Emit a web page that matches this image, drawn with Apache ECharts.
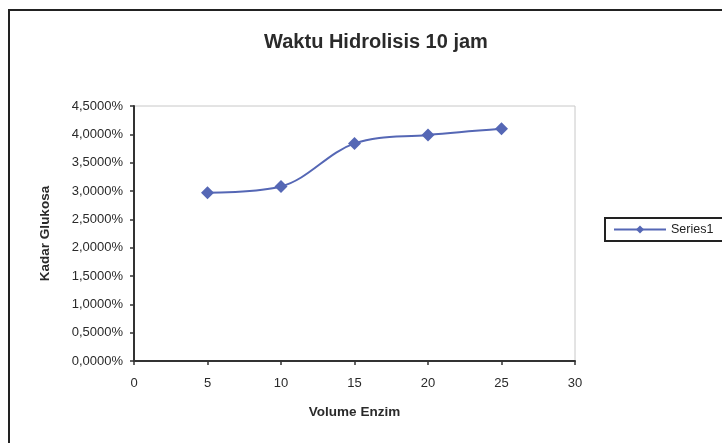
<!DOCTYPE html>
<html><head><meta charset="utf-8">
<script src="https://cdn.jsdelivr.net/npm/echarts@6/dist/echarts.min.js"></script>
<style>html,body{margin:0;padding:0;background:#fff}#c{width:722px;height:443px}</style>
</head><body><div id="c"></div>
<script>
const volumeEnzim = [5, 10, 15, 20, 25];
const kadarGlukosa = [2.97, 3.08, 3.84, 3.99, 4.10];
const seriesName = 'Series1';
const titleText = 'Waktu Hidrolisis 10 jam';
const xName = 'Volume Enzim';
const yName = 'Kadar Glukosa';

const chart = echarts.init(document.getElementById('c'));
const lineColor = '#5567b5';
const font = 'Liberation Sans, Arial';
chart.setOption({
  backgroundColor: '#fff',
  animation: false,
  graphic: [{
    type: 'rect', shape: {x: 9, y: 10, width: 800, height: 500},
    style: {fill: 'none', stroke: '#222', lineWidth: 2}
  }],
  title: {
    text: titleText, left: 371, top: 27, textAlign: 'center',
    textStyle: {fontFamily: font, fontSize: 20, fontWeight: 'bold', color: '#2a2a2a'}
  },
  legend: {
    data: [seriesName], left: 605, top: 218, orient: 'vertical',
    borderColor: '#222', borderWidth: 2, padding: [5, 20, 5, 8],
    itemWidth: 52, itemHeight: 10, itemGap: 4,
    textStyle: {fontFamily: font, fontSize: 12.5, color: '#222'}
  },
  grid: {left: 134, right: 147, top: 106, bottom: 82, show: true, borderColor: '#c8c8c8', borderWidth: 1},
  xAxis: {
    type: 'value', min: 0, max: 30, interval: 5,
    name: xName, nameLocation: 'middle', nameGap: 44,
    nameTextStyle: {fontFamily: font, fontSize: 13.5, fontWeight: 'bold', color: '#2a2a2a'},
    axisLine: {lineStyle: {color: '#333', width: 2}},
    axisTick: {show: true, length: 4, lineStyle: {color: '#333', width: 1.5}},
    axisLabel: {fontFamily: font, fontSize: 13, color: '#2a2a2a', margin: 16},
    splitLine: {show: false}
  },
  yAxis: {
    type: 'value', min: 0, max: 4.5, interval: 0.5,
    name: yName, nameLocation: 'middle', nameGap: 82, nameRotate: 90,
    nameTextStyle: {fontFamily: font, fontSize: 13.5, fontWeight: 'bold', color: '#2a2a2a'},
    axisLine: {show: true, lineStyle: {color: '#333', width: 2}},
    axisTick: {show: true, length: 4, lineStyle: {color: '#333', width: 1.5}},
    axisLabel: {
      fontFamily: font, fontSize: 13, color: '#2a2a2a', margin: 11,
      formatter: v => v.toFixed(4).replace('.', ',') + '%'
    },
    splitLine: {show: false}
  },
  series: [{
    name: seriesName, type: 'line', smooth: 0.35,
    data: volumeEnzim.map((x, i) => [x, kadarGlukosa[i]]),
    symbol: 'diamond', symbolSize: 13,
    lineStyle: {color: lineColor, width: 2},
    itemStyle: {color: lineColor}
  }]
});
</script></body></html>
